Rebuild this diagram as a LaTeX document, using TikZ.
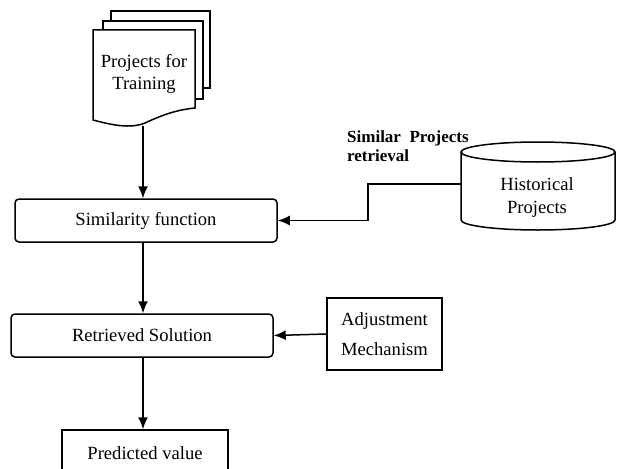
\documentclass[tikz,border=0pt]{standalone}
\usepackage{fontspec}
\setmainfont{Liberation Serif}
\usetikzlibrary{positioning,arrows.meta}

\begin{document}
\begin{tikzpicture}[x=1pt,y=-1pt,
    box/.style={draw, line width=1.5pt, font=\fontsize{18.6}{22}\selectfont},
    flow/.style={line width=1.5pt, -{Latex[length=12pt,width=10pt]}}]

% Fix the page size
\useasboundingbox (0,0) rectangle (617,468);

% Draw the stacked documents
\draw[line width=1.5pt, fill=white] (111,11) rectangle (210,88);
\draw[line width=1.5pt, fill=white] (103,21) rectangle (203,99);
\draw[line width=1.5pt, fill=white] (93,30) -- (195,30) -- (195,108)
    .. controls (175,110) and (160,116) .. (145,123)
    .. controls (130,129) and (112,125) .. (93,120) -- cycle;
\node[align=center, font=\fontsize{18.6}{22}\selectfont] (docs) at (144,74) {Projects for\\Training};
\coordinate (docbottom) at (143,126);

% Draw the historical projects cylinder
\draw[line width=1.5pt] (538,152) ellipse (77 and 10);
\draw[line width=1.5pt] (461,152) -- (461,220) arc (180:0:77 and 10) -- (615,152);
\node[align=center, font=\fontsize{18.6}{23}\selectfont] (hist) at (537,198) {Historical\\Projects};
\coordinate (histin) at (461,184);

% Draw the boxes
\node[box, rounded corners=4pt, minimum width=262, minimum height=43] (sim) at (146,220.5) {Similarity function};
\node[box, rounded corners=4pt, minimum width=262, minimum height=43] (ret) at (142,335.5) {Retrieved Solution};
\node[box, minimum width=115, minimum height=72, align=center,
      font=\fontsize{18.6}{30}\selectfont] (adj) at (384.5,334) {Adjustment\\Mechanism};
\node[box, minimum width=166, minimum height=46] (pred) at (145,453) {Predicted value};

% Add the retrieval label
\node[anchor=north west, align=left, inner sep=0pt,
      font=\fontsize{17}{19}\selectfont\bfseries] (retlbl) at (347,131) {Similar\ \ Projects\\retrieval};

% Draw the arrows
\draw[flow] (docbottom) -- (docbottom |- sim.north);
\draw[flow] (histin) -- ++(-93,0) |- (sim.east);
\draw[flow] (docbottom |- sim.south) -- (docbottom |- ret.north);
\draw[flow] (adj.west) -- (ret.east);
\draw[flow] (docbottom |- ret.south) -- (docbottom |- pred.north);

\end{tikzpicture}
\end{document}
